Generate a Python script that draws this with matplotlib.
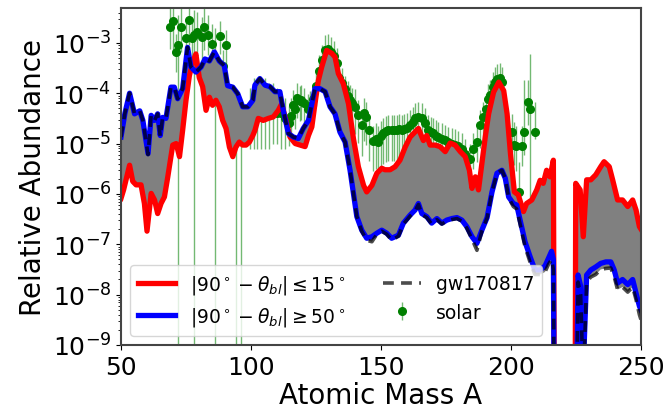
import numpy as np
import matplotlib
matplotlib.use("Agg")
import matplotlib.pyplot as plt

# ---------------- data (log10 of relative abundance) ----------------
red_A = [50, 51.0, 53.3, 54.5, 55.8, 57.7, 59.0, 60.0, 61.6, 62.9, 64.1, 65.4, 66.7, 68.0, 69.9,
         71.2, 72.5, 73.7, 75.0, 76.3, 77.6, 78.8, 80.1, 81.4, 82.7, 84.0, 85.2, 86.5, 87.8, 89.1,
         90.4, 91.7, 93.0, 94.2, 95.5, 96.8, 98.1, 99.4, 100.7, 101.5, 102.8, 104.7, 106.7, 108.6,
         110.5, 111.8, 113.1, 115.0, 117.0, 118.9, 120.8, 122.1, 123.4, 124.6, 125.9, 127.2, 129.1,
         131.1, 132.3, 133.6, 135.5, 137.5, 139.4, 141.3, 143.3, 144.5, 146.5, 148.4, 150.3, 151.5,
         153.5, 155.4, 157.3, 159.3, 161.2, 163.1, 164.4, 166.3, 167.6, 168.9, 170.8, 172.7, 174.7,
         176.6, 178.5, 180.5, 182.4, 184.0, 185.0, 186.3, 187.5, 188.8, 190.1, 191.4, 193.3, 195.3,
         197.2, 198.5, 199.8, 201.3, 202.8, 204.8, 206.0, 208.0, 209.9, 211.2, 212.4, 213.7, 215.0,
         216.3, 216.8, 224.6, 224.9, 226.6, 227.8, 229.1, 230.7, 232.6, 234.5, 235.8, 237.8, 239.1,
         241.0, 242.9, 244.9, 246.8, 248.1, 249.4, 250]
red_logY = [-6.09, -5.92, -5.43, -5.75, -5.82, -5.82, -6.19, -6.74, -5.99, -6.12, -6.39, -6.19, -6.06, -5.66, -5.03,
            -5.00, -5.26, -4.74, -4.14, -3.65, -3.38, -3.22, -3.69, -3.87, -4.34, -4.08, -4.24, -4.14, -4.27, -4.54,
            -4.70, -5.07, -5.26, -5.07, -4.97, -5.03, -5.03, -4.97, -4.84, -4.74, -4.50, -4.54, -4.50, -4.47,
            -4.34, -4.21, -4.47, -4.87, -5.00, -5.03, -5.06, -4.84, -4.67, -4.21, -3.75, -3.48, -3.15,
            -3.21, -3.28, -3.61, -3.81, -4.21, -4.90, -5.46, -5.83, -5.96, -5.83, -5.59, -5.49, -5.52,
            -5.52, -5.46, -5.33, -5.07, -4.87, -4.77, -4.70, -4.94, -4.84, -5.03, -5.03, -5.06, -5.16,
            -4.99, -5.03, -5.16, -5.26, -5.53, -5.89, -5.66, -5.92, -5.40, -4.87, -4.41, -3.98, -3.78,
            -3.95, -4.41, -5.20, -5.96, -6.02, -6.35, -6.19, -6.12, -5.92, -5.73, -5.79, -5.53, -5.66,
            -5.33, -12.0, -12.0, -5.79, -5.92, -6.85, -5.72, -5.72, -5.62, -5.46, -5.36, -5.46, -5.72,
            -6.12, -6.12, -6.25, -6.12, -6.32, -6.65, -6.70]

blue_A = [50, 51.5, 53.3, 55.2, 57.2, 58.4, 60.4, 61.6, 62.9, 64.1, 65.1, 66.0, 67.3, 69.2, 70.5,
          71.8, 73.7, 75.6, 76.9, 78.8, 80.8, 82.3, 84.0, 85.9, 87.8, 89.7, 91.0, 93.0, 94.9, 96.8,
          98.8, 100.7, 101.5, 103.4, 105.4, 107.3, 109.2, 111.1, 112.4, 114.4, 116.3, 118.2, 120.1,
          122.1, 123.4, 124.6, 126.5, 128.5, 130.4, 132.3, 134.2, 136.2, 138.1, 139.4, 140.7, 142.6,
          144.5, 146.5, 148.4, 150.3, 152.2, 154.1, 156.7, 158.6, 161.2, 163.1, 164.4, 165.7, 167.6,
          169.5, 171.5, 173.4, 175.3, 177.2, 179.2, 181.1, 183.0, 185.0, 186.9, 188.8, 190.8, 192.7,
          194.6, 196.5, 197.8, 199.1, 200.9, 202.2, 203.5, 205.4, 207.3, 209.2, 211.2, 213.1, 214.4,
          215.6, 216.3, 216.8, 224.8, 225.8, 226.8, 227.8, 229.1, 230.7, 232.6, 234.5, 236.5, 238.4,
          239.7, 241.0, 242.9, 244.9, 246.8, 248.1, 249.4, 250]
blue_logY = [-4.87, -4.40, -4.00, -4.41, -4.35, -4.54, -5.20, -4.44, -4.54, -4.41, -4.84, -4.48, -4.50, -3.88, -3.88,
             -4.11, -3.91, -3.09, -3.48, -3.58, -3.48, -3.32, -3.36, -3.18, -3.36, -3.45, -3.85, -3.88, -4.01, -4.27,
             -4.27, -4.14, -3.84, -3.71, -3.84, -3.87, -3.97, -3.97, -4.34, -4.80, -4.87, -4.90, -4.70,
             -4.54, -4.21, -3.91, -3.91, -3.97, -4.27, -4.41, -4.77, -4.97, -5.53, -5.99, -6.45, -6.72,
             -6.88, -6.85, -6.78, -6.72, -6.78, -6.88, -6.82, -6.58, -6.42, -6.32, -6.19, -6.39, -6.45,
             -6.58, -6.49, -6.58, -6.52, -6.49, -6.47, -6.52, -6.65, -6.85, -6.98, -6.72, -6.47, -5.96,
             -5.59, -5.53, -5.69, -6.06, -6.19, -6.22, -6.52, -6.95, -7.24, -7.51, -7.51, -7.43, -7.28,
             -7.14, -7.30, -12.0, -12.0, -7.61, -7.83, -9.50, -7.61, -7.51, -7.45, -7.38, -7.35, -7.35,
             -7.51, -7.77, -7.70, -7.80, -7.70, -7.97, -8.23, -8.30]

gw_logY = [-4.87, -4.40, -4.00, -4.41, -4.35, -4.54, -5.22, -4.44, -4.54, -4.41, -4.86, -4.48, -4.50, -3.88, -3.88,
           -4.11, -3.91, -3.09, -3.48, -3.58, -3.48, -3.32, -3.36, -3.18, -3.36, -3.45, -3.85, -3.88, -4.01, -4.27,
           -4.27, -4.14, -3.84, -3.71, -3.84, -3.87, -3.97, -3.97, -4.34, -4.80, -4.87, -4.90, -4.70,
           -4.54, -4.21, -3.91, -3.91, -3.97, -4.27, -4.41, -4.77, -4.97, -5.53, -5.99, -6.45, -6.74,
           -6.92, -6.95, -6.80, -6.74, -6.80, -6.92, -6.84, -6.60, -6.44, -6.34, -6.21, -6.41, -6.47,
           -6.60, -6.51, -6.60, -6.54, -6.51, -6.49, -6.54, -6.68, -6.90, -7.12, -6.74, -6.48, -5.96,
           -5.59, -5.53, -5.69, -6.08, -6.25, -6.30, -6.60, -7.05, -7.35, -7.60, -7.60, -7.55, -7.40,
           -7.30, -7.50, -12.0, -12.0, -7.75, -8.00, -9.80, -7.75, -7.65, -7.60, -7.50, -7.48, -7.47,
           -7.65, -7.90, -7.85, -7.95, -7.85, -8.10, -8.40, -8.50]

solar_A = [68.8, 70.1, 71.0, 72.0, 73.1, 75.0, 76.2, 77.4, 78.2, 79.1, 81.2, 82.0, 83.3, 85.1, 86.2,
           88.1, 89.3, 90.3, 92.0, 94.1, 96.2,
           99.5, 101.0, 102.5, 104.0, 105.5, 107.0, 108.5, 110.0, 111.5, 113.0,
           114.5, 115.5, 116.2, 117.0, 117.8, 118.8, 119.4, 120.3, 121.9, 122.8, 123.8,
           125.0, 126.3, 127.4, 128.5, 129.6, 130.7, 131.8, 132.9, 134.0, 135.1,
           136.2, 137.2, 138.1, 139.0, 140.0, 141.3, 142.6, 143.6, 144.2, 145.5, 147.0, 148.0, 149.0,
           150.0, 150.9, 152.0, 152.8, 154.1, 155.0, 156.0, 157.0, 158.0, 159.0, 159.9, 161.2, 162.2,
           163.1, 164.4, 165.6, 166.9, 168.2, 169.2, 170.1, 171.0, 172.0, 173.3, 174.6, 175.9, 177.2,
           178.5, 179.8, 181.0, 182.5, 184.2, 185.5, 186.8, 188.1, 189.4, 190.4, 191.3, 192.1, 193.0,
           193.8, 194.7, 195.6, 196.5,
           200.3, 201.3, 202.1, 203.2, 204.3, 205.1, 206.4, 207.3, 209.2]
solar_logY = [-2.68, -2.57, -3.18, -3.05, -2.68, -2.90, -2.54, -2.90, -2.85, -2.79, -2.88, -2.69, -2.84, -3.02, -3.40,
              -2.87, -3.45, -3.05, -4.30, -4.50, -4.60,
              -4.50, -4.30, -4.30, -4.20, -4.30, -4.30, -4.30, -4.40, -4.40, -4.50,
              -4.60, -4.45, -4.24, -4.31, -4.10, -4.15, -4.14, -4.20, -4.31, -4.25, -4.11,
              -3.85, -3.55, -3.35, -3.15, -3.12, -3.18, -3.26, -3.40, -3.70, -3.80,
              -3.91, -4.05, -4.14, -4.20, -4.27, -4.44, -4.64, -4.40, -4.47, -4.74, -4.95, -4.90, -4.96,
              -4.85, -4.80, -4.76, -4.74, -4.74, -4.74, -4.74, -4.72, -4.74, -4.72, -4.70, -4.64, -4.57,
              -4.50, -4.47, -4.50, -4.60, -4.74, -4.78, -4.80, -4.84, -4.87, -4.90, -4.93, -4.97, -5.00,
              -5.02, -5.05, -5.10, -5.20, -5.30, -5.10, -4.97, -4.64, -4.47, -4.31, -4.11, -4.03, -3.88,
              -3.78, -3.72, -3.70, -3.78,
              -4.77, -5.03, -5.05, -5.96, -5.05, -4.78, -4.17, -4.32, -4.78]
# error bar extents in dex (upper, lower); 9 means the lower bar reaches zero
solar_err_up = [0.40, 0.40, 0.35, 0.60, 0.40, 0.35, 0.40, 0.40, 0.50, 0.40, 0.40, 0.40, 0.40, 0.40, 0.70,
                0.30, 0.30, 0.30, 0.40, 0.30, 0.30,
                0.60, 0.60, 0.60, 0.50, 0.60, 0.50, 0.50, 0.50, 0.40, 0.40,
                0.35, 0.35, 0.30, 0.30, 0.30, 0.30, 0.30, 0.30, 0.30, 0.30, 0.30,
                0.30, 0.30, 0.30, 0.30, 0.30, 0.30, 0.30, 0.30, 0.30, 0.30,
                0.25, 0.30, 0.30, 0.30, 0.35, 0.30, 0.30, 0.30, 0.30, 0.30, 0.30, 0.30, 0.30,
                0.30, 0.30, 0.30, 0.30, 0.30, 0.30, 0.30, 0.30, 0.30, 0.30, 0.30, 0.30, 0.30,
                0.30, 0.30, 0.30, 0.30, 0.30, 0.30, 0.30, 0.30, 0.30, 0.30, 0.30, 0.30, 0.30,
                0.30, 0.30, 0.30, 0.30, 0.30, 0.30, 0.30, 0.30, 0.30, 0.30, 0.30, 0.30, 0.30,
                0.30, 0.30, 0.30, 0.30,
                0.35, 0.45, 0.40, 0.60, 0.40, 1.05, 0.43, 1.10, 0.60]
solar_err_dn = [0.45, 0.55, 0.40, 9.00, 0.50, 0.45, 0.50, 0.45, 9.00, 0.40, 0.45, 0.45, 0.40, 0.45, 9.00,
                0.35, 0.50, 0.35, 0.70, 9.00, 9.00,
                0.60, 0.80, 0.80, 0.90, 0.80, 0.80, 0.70, 0.60, 0.70, 0.60,
                0.45, 0.45, 0.40, 0.40, 0.40, 0.40, 0.40, 0.40, 0.40, 0.40, 0.40,
                0.40, 0.40, 0.40, 0.40, 0.40, 0.40, 0.40, 0.40, 0.40, 0.40,
                0.45, 0.50, 0.50, 0.50, 0.55, 0.55, 0.60, 0.55, 0.55, 0.60, 0.60, 0.60, 0.60,
                0.60, 0.60, 0.60, 0.60, 0.60, 0.60, 0.60, 0.60, 0.60, 0.60, 0.60, 0.60, 0.60,
                0.60, 0.60, 0.60, 0.60, 0.60, 0.60, 0.60, 0.60, 0.60, 0.60, 0.60, 0.60, 0.60,
                0.55, 0.55, 0.50, 0.50, 0.40, 0.40, 0.40, 0.45, 0.45, 0.45, 0.45, 0.45, 0.40,
                0.40, 0.40, 0.40, 0.40,
                0.40, 0.40, 0.50, 0.10, 0.40, 0.45, 0.46, 1.77, 0.12]

labels = [r'$|90^\circ-\theta_{bl}|\leq15^\circ$', r'$|90^\circ-\theta_{bl}|\geq50^\circ$',
          'gw170817', 'solar']

# ---------------- plot ----------------
fig = plt.figure(figsize=(6.7, 4.14), dpi=100)
ax = fig.add_axes([0.1806, 0.1643, 0.9567 - 0.1806, 0.978 - 0.1643])

red_y = 10.0 ** np.array(red_logY)
blue_y = 10.0 ** np.array(blue_logY)
gw_y = 10.0 ** np.array(gw_logY)
sA = np.array(solar_A)
sY = 10.0 ** np.array(solar_logY)
up = sY * (10.0 ** np.array(solar_err_up) - 1.0)
dn = sY * (1.0 - 10.0 ** (-np.array(solar_err_dn)))

eb = ax.errorbar(sA, sY, yerr=[dn, up], fmt='o', color='green', ecolor='green',
                 elinewidth=1.0, markersize=5.5, zorder=1, label=labels[3])
for c in eb[2]:
    c.set_alpha(0.55)

ax.fill(np.concatenate([red_A, blue_A[::-1]]), np.concatenate([red_y, gw_y[::-1]]),
        color='gray', lw=0, zorder=1.5)

l1, = ax.plot(red_A, red_y, color='red', lw=3.8, zorder=2, label=labels[0])
l2, = ax.plot(blue_A, blue_y, color='blue', lw=3.8, zorder=2.1, label=labels[1])
l3, = ax.plot(blue_A, gw_y, color='black', lw=2.6, ls=(0, (3, 2)), alpha=0.7,
              zorder=2.2, label=labels[2])

ax.set_yscale('log')
ax.set_xlim(50, 250)
ax.set_ylim(1e-9, 10 ** -2.31)
ax.set_xticks([50, 100, 150, 200, 250])
ax.tick_params(axis='both', which='major', labelsize=18)
ax.set_xlabel('Atomic Mass A', fontsize=20, labelpad=2)
ax.set_ylabel('Relative Abundance', fontsize=20, labelpad=4)
for s in ax.spines.values():
    s.set_color('#444444')
    s.set_linewidth(1.5)

ax.legend(handles=[l1, l2, l3, eb], labels=labels, ncol=2, loc='lower left',
          fontsize=13.5, handlelength=2.0)

fig.savefig('out.png', dpi=100)
